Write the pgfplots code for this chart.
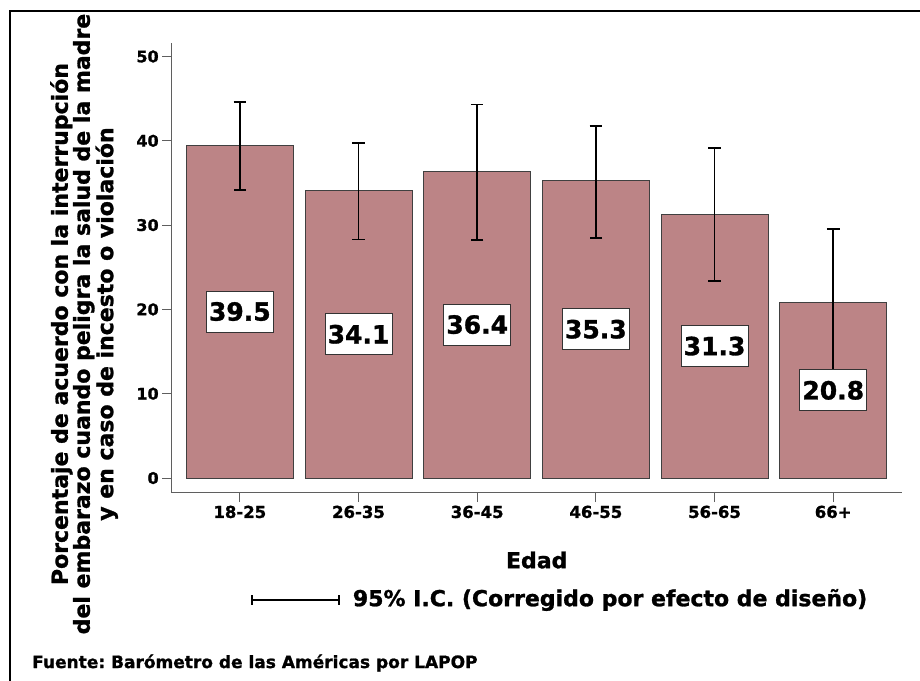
\documentclass[border=0pt]{standalone}
\usepackage{fontspec}
\setmainfont{DejaVu Sans}[BoldFeatures={FakeBold=1.2}]
\usepackage{pgfplots}
\usepackage{pgfplotstable}
\pgfplotsset{compat=1.18}
\definecolor{barfill}{RGB}{188,132,134}
\definecolor{axgray}{RGB}{95,95,95}

\pgfplotstableread{
x y ep em half lab
0 39.5 5.1 5.3 19.75 39.5
1 34.1 5.6 5.8 17.05 34.1
2 36.4 7.9 8.2 18.2 36.4
3 35.3 6.5 6.8 17.65 35.3
4 31.3 7.8 7.9 15.65 31.3
5 20.8 8.7 8.7 10.4 20.8
}\datatable

\begin{document}
\frenchspacing
\begin{tikzpicture}[x=1bp,y=1bp]
\useasboundingbox (0,0) rectangle (920,681);
\draw[line width=2.5bp] (10,0) -- (10,670) -- (920,670);
\begin{axis}[
  at={(171.7bp,188.3bp)}, anchor=south west,
  scale only axis, width=730bp, height=449.7bp,
  xmin=-0.574, xmax=5.577, ymin=-1.74, ymax=51.6,
  axis x line*=bottom, axis y line*=left,
  axis line style={axgray, line width=1.3bp, -},
  tick align=outside, major tick length=9.5bp,
  tick style={axgray, line width=1bp},
  xtick={0,1,2,3,4,5},
  xticklabels={18-25,26-35,36-45,46-55,56-65,66+},
  ytick={0,10,20,30,40,50},
  /pgf/number format/assume math mode=true,
  xticklabel style={font=\bfseries\fontsize{16.5bp}{16.5bp}\selectfont},
  yticklabel style={font=\bfseries\fontsize{16bp}{16bp}\selectfont},
  xlabel={Edad},
  xlabel style={at={(axis description cs:0.5,-0.1497)}, anchor=center, font=\bfseries\fontsize{22bp}{22bp}\selectfont},
  ylabel={Porcentaje de acuerdo con la interrupción\\del embarazo cuando peligra la salud de la madre\\y en caso de incesto o violación},
  ylabel style={at={(axis description cs:-0.1201,0.375)}, anchor=center, align=center, font=\bfseries\fontsize{22bp}{22bp}\selectfont},
]
\addplot[ybar, bar width=0.9, bar shift=0pt, fill=barfill, draw=black!75, line width=0.8bp,
  error bars/.cd, y dir=both, y explicit,
  error bar style={line width=1.8bp, black},
  error mark options={rotate=90, mark size=6.3bp, line width=1.8bp, black}]
  table[x=x, y=y, y error plus=ep, y error minus=em] \datatable;
\addplot[only marks, mark=none, nodes near coords, point meta=explicit symbolic,
  nodes near coords align=center,
  every node near coord/.append style={anchor=center, fill=white, draw=black!80, line width=0.8bp,
    minimum width=67bp, minimum height=41bp, inner sep=0pt,
    font=\bfseries\fontsize{25bp}{25bp}\selectfont}]
  table[x=x, y=half, meta=lab] \datatable;
\end{axis}
\draw[line width=1.8bp] (252.3,81) -- (339,81);
\draw[line width=1.8bp] (252.3,76) -- (252.3,86);
\draw[line width=1.8bp] (339,76) -- (339,86);
\node[anchor=west, inner sep=0pt, font=\bfseries\fontsize{22bp}{22bp}\selectfont] at (352.7,81) {95\% I.C. (Corregido por efecto de diseño)};
\node[anchor=west, inner sep=0pt, font=\bfseries\fontsize{17bp}{17bp}\selectfont] at (32,18) {Fuente: Barómetro de las Américas por LAPOP};
\end{tikzpicture}
\end{document}
